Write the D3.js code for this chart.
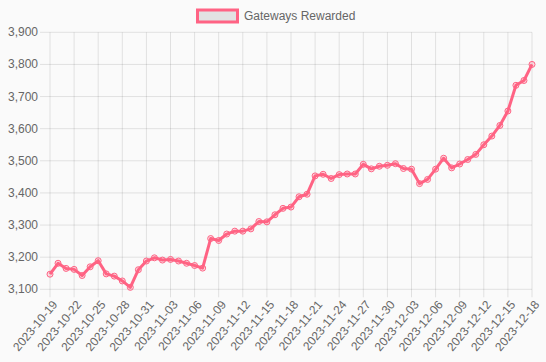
<!DOCTYPE html>
<html>
<head>
<meta charset="utf-8">
<script src="https://cdn.jsdelivr.net/npm/d3@7"></script>
<style>
  html, body { margin: 0; padding: 0; background: #fafafa; }
  svg { display: block; font-family: "Liberation Sans", Arial, Helvetica, sans-serif; }
</style>
</head>
<body>
<svg id="chart"></svg>
<script>
const seriesLabel = 'Gateways Rewarded';

const dates = [
  '2023-10-19', '2023-10-20', '2023-10-21', '2023-10-22', '2023-10-23', '2023-10-24', '2023-10-25',
  '2023-10-26', '2023-10-27', '2023-10-28', '2023-10-29', '2023-10-30', '2023-10-31', '2023-11-01',
  '2023-11-02', '2023-11-03', '2023-11-04', '2023-11-05', '2023-11-06', '2023-11-07', '2023-11-08',
  '2023-11-09', '2023-11-10', '2023-11-11', '2023-11-12', '2023-11-13', '2023-11-14', '2023-11-15',
  '2023-11-16', '2023-11-17', '2023-11-18', '2023-11-19', '2023-11-20', '2023-11-21', '2023-11-22',
  '2023-11-23', '2023-11-24', '2023-11-25', '2023-11-26', '2023-11-27', '2023-11-28', '2023-11-29',
  '2023-11-30', '2023-12-01', '2023-12-02', '2023-12-03', '2023-12-04', '2023-12-05', '2023-12-06',
  '2023-12-07', '2023-12-08', '2023-12-09', '2023-12-10', '2023-12-11', '2023-12-12', '2023-12-13',
  '2023-12-14', '2023-12-15', '2023-12-16', '2023-12-17', '2023-12-18'
];

const gateways = [
  3147, 3181, 3165, 3162, 3143, 3170, 3189, 3148, 3141, 3126,
  3106, 3161, 3188, 3198, 3191, 3193, 3188, 3181, 3174, 3166,
  3258, 3252, 3272, 3281, 3281, 3288, 3311, 3310, 3332, 3352,
  3356, 3388, 3396, 3453, 3458, 3445, 3457, 3459, 3459, 3489,
  3475, 3483, 3486, 3491, 3476, 3474, 3429, 3442, 3474, 3508,
  3478, 3490, 3504, 3520, 3550, 3577, 3610, 3655, 3735, 3750,
  3800
];

const yTicks = [3100, 3200, 3300, 3400, 3500, 3600, 3700, 3800, 3900];
// every third day gets a label
const xTicks = dates.filter((d, i) => i % 3 === 0);

const width = 546;
const height = 362;
const margin = { top: 32.3, right: 14, bottom: 72.7, left: 50 };

const lineColor = 'rgb(255, 99, 132)';
const gridColor = 'rgba(0, 0, 0, 0.1)';
const textColor = '#666';

const svg = d3.select('#chart').attr('width', width).attr('height', height);

const x = d3.scalePoint().domain(dates).range([margin.left, width - margin.right]);
const y = d3.scaleLinear().domain([3100, 3900]).range([height - margin.bottom, margin.top]);

// horizontal grid + y labels
const yAxis = svg.append('g');
yAxis.selectAll('line')
  .data(yTicks)
  .enter()
  .append('line')
  .attr('x1', margin.left - 10)
  .attr('x2', width - margin.right)
  .attr('y1', d => y(d))
  .attr('y2', d => y(d))
  .attr('stroke', gridColor)
  .attr('stroke-width', 1);
yAxis.selectAll('text')
  .data(yTicks)
  .enter()
  .append('text')
  .attr('x', margin.left - 12)
  .attr('y', d => y(d))
  .attr('text-anchor', 'end')
  .attr('dominant-baseline', 'central')
  .attr('font-size', 12)
  .attr('fill', textColor)
  .text(d => d3.format(',')(d));

// vertical grid + x labels
const xAxis = svg.append('g');
xAxis.selectAll('line')
  .data(xTicks)
  .enter()
  .append('line')
  .attr('x1', d => x(d))
  .attr('x2', d => x(d))
  .attr('y1', margin.top)
  .attr('y2', height - margin.bottom + 8)
  .attr('stroke', gridColor)
  .attr('stroke-width', 1);
xAxis.selectAll('text')
  .data(xTicks)
  .enter()
  .append('text')
  .attr('transform', d => `translate(${x(d) + 5},${height - margin.bottom + 13}) rotate(-50)`)
  .attr('text-anchor', 'end')
  .attr('dominant-baseline', 'central')
  .attr('font-size', 12)
  .attr('fill', textColor)
  .text(d => d);

// the line
const line = d3.line()
  .x((d, i) => x(dates[i]))
  .y(d => y(d));

svg.append('path')
  .datum(gateways)
  .attr('d', line)
  .attr('fill', 'none')
  .attr('stroke', lineColor)
  .attr('stroke-width', 3)
  .attr('stroke-linejoin', 'round');

svg.append('g')
  .selectAll('circle')
  .data(gateways)
  .enter()
  .append('circle')
  .attr('cx', (d, i) => x(dates[i]))
  .attr('cy', d => y(d))
  .attr('r', 3)
  .attr('fill', 'rgba(255, 99, 132, 0.2)')
  .attr('stroke', lineColor)
  .attr('stroke-width', 1);

// legend
const legend = svg.append('g');
legend.append('rect')
  .attr('x', 197.5)
  .attr('y', 10)
  .attr('width', 40)
  .attr('height', 12)
  .attr('fill', '#e2e2e2')
  .attr('stroke', lineColor)
  .attr('stroke-width', 3);
legend.append('text')
  .attr('x', 244)
  .attr('y', 15.5)
  .attr('dominant-baseline', 'central')
  .attr('font-size', 12)
  .attr('fill', textColor)
  .text(seriesLabel);
</script>
</body>
</html>
